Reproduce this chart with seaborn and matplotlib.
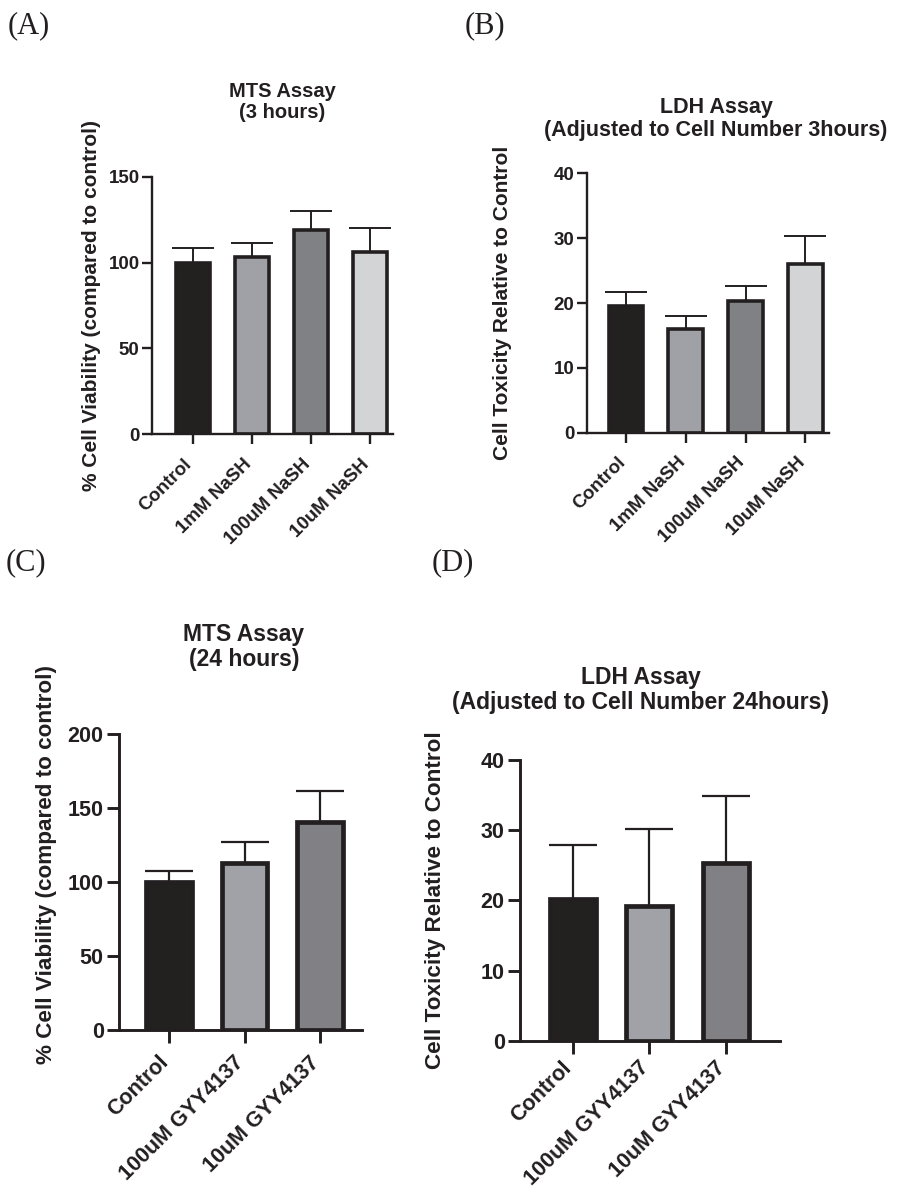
import matplotlib
matplotlib.use("Agg")
import matplotlib.pyplot as plt
import seaborn as sns
import numpy as np
import pandas as pd

# ---------------- data ----------------
cats_a = ["Control", "1mM NaSH", "100uM NaSH", "10uM NaSH"]
mts3_mean = [100.0, 103.1, 119.2, 106.3]
mts3_err = [8.7, 8.5, 10.7, 13.8]

cats_b = ["Control", "1mM NaSH", "100uM NaSH", "10uM NaSH"]
ldh3_mean = [19.5, 16.0, 20.3, 26.0]
ldh3_err = [2.2, 2.0, 2.3, 4.3]

cats_c = ["Control", "100uM GYY4137", "10uM GYY4137"]
mts24_mean = [100.0, 112.7, 140.4]
mts24_err = [7.3, 14.4, 20.7]

cats_d = ["Control", "100uM GYY4137", "10uM GYY4137"]
ldh24_mean = [20.2, 19.2, 25.3]
ldh24_err = [7.7, 10.9, 9.5]

colors4 = ["#231f20", "#9ea0a7", "#7f8085", "#d3d4d6"]
colors3 = ["#231f20", "#9fa1a8", "#808186"]
INK = "#231f20"

sns.set_theme(style="ticks")
plt.rcParams["font.family"] = ["Liberation Sans", "DejaVu Sans"]
plt.rcParams["font.weight"] = "bold"
plt.rcParams["text.color"] = INK
plt.rcParams["axes.labelcolor"] = INK
plt.rcParams["xtick.color"] = INK
plt.rcParams["ytick.color"] = INK

W, H = 906, 1188
fig = plt.figure(figsize=(W / 100, H / 100), dpi=100)


def px_axes(left, bottom, width, height):
    return fig.add_axes([left / W, 1 - bottom / H, width / W, height / H])


def panel(ax, cats, means, errs, colors, ylim, yticks, xlim, ylabel, ylab_xy,
          s):
    df = pd.DataFrame({"group": cats, "value": means})
    sns.barplot(data=df, x="group", y="value", hue="group", palette=colors,
                legend=False, width=s["bw"], edgecolor=INK,
                linewidth=s["edge"], errorbar=None, ax=ax, zorder=2)
    cont = ax.errorbar(np.arange(len(cats)), means,
                       yerr=[np.zeros(len(errs)), errs], fmt="none",
                       ecolor=INK, elinewidth=s["elw"], capsize=s["cap"],
                       capthick=s["elw"], zorder=1)
    # keep only the upper caps (GraphPad-style one-sided error bars)
    for cl in cont[1]:
        yd = np.asarray(cl.get_ydata(), dtype=float)
        if np.allclose(yd, np.asarray(means, dtype=float)):
            cl.set_visible(False)
    ax.set_xlim(*xlim)
    ax.set_ylim(*ylim)
    ax.set_yticks(yticks)
    ax.set_yticklabels([str(t) for t in yticks], fontsize=s["tick"],
                       fontweight="bold")
    ax.set_xticks(range(len(cats)))
    ax.set_xticklabels(cats, rotation=45, ha="right", va="baseline",
                       rotation_mode="anchor", fontsize=s["tick"],
                       fontweight="bold")
    ax.set_xlabel("")
    ax.set_ylabel("")
    for side in ("top", "right"):
        ax.spines[side].set_visible(False)
    for side in ("left", "bottom"):
        ax.spines[side].set_linewidth(s["spine"])
        ax.spines[side].set_color(INK)
    ax.tick_params(axis="both", length=s["tl"], width=s["spine"],
                   color=INK)
    ax.tick_params(axis="x", pad=s["xpad"])
    ax.tick_params(axis="y", pad=2)
    ax.set_facecolor("none")
    ax.text(ylab_xy[0], ylab_xy[1], ylabel, transform=ax.transAxes,
            rotation=90, ha="center", va="center", fontsize=s["lab"],
            fontweight="bold", color=INK)


small = dict(bw=0.58, edge=2.6, elw=1.4, cap=15, tick=13.5, lab=15,
             spine=1.7, tl=7, xpad=15)
large = dict(bw=0.60, edge=3.4, elw=1.6, cap=17, tick=15.5, lab=16.2,
             spine=2.1, tl=9, xpad=15)
large_d = dict(large, xpad=11)

# Panel A
axA = px_axes(152, 434.3, 240.7, 257.6)
panel(axA, cats_a, mts3_mean, mts3_err, colors4, (0, 150), [0, 50, 100, 150],
      (-0.69, 3.39), "% Cell Viability (compared to control)", (-0.25, 0.50),
      small)

# Panel B
axB = px_axes(586.7, 432.7, 242, 259.4)
panel(axB, cats_b, ldh3_mean, ldh3_err, colors4, (0, 40), [0, 10, 20, 30, 40],
      (-0.656, 3.39), "Cell Toxicity Relative to Control", (-0.35, 0.50),
      small)

# Panel C
axC = px_axes(119, 1030, 242.6, 296.4)
panel(axC, cats_c, mts24_mean, mts24_err, colors3, (0, 200),
      [0, 50, 100, 150, 200], (-0.662, 2.55),
      "% Cell Viability (compared to control)", (-0.297, 0.557), large)

# Panel D
axD = px_axes(520, 1040.7, 259.8, 280.7)
panel(axD, cats_d, ldh24_mean, ldh24_err, colors3, (0, 40),
      [0, 10, 20, 30, 40], (-0.687, 2.70),
      "Cell Toxicity Relative to Control", (-0.327, 0.50), large_d)


def ftext(x, y, s, **kw):
    fig.text(x / W, 1 - y / H, s, **kw)


# Titles
ftext(282, 102, "MTS Assay\n(3 hours)", ha="center", va="center",
      multialignment="center", fontsize=14.5, fontweight="bold",
      linespacing=1.15)
ftext(716, 119, "LDH Assay\n(Adjusted to Cell Number 3hours)", ha="center",
      va="center", multialignment="center", fontsize=15.5, fontweight="bold",
      linespacing=1.15)
ftext(244, 647, "MTS Assay\n(24 hours)", ha="center", va="center",
      multialignment="center", fontsize=16.5, fontweight="bold",
      linespacing=1.15)
ftext(641, 690, "LDH Assay\n(Adjusted to Cell Number 24hours)", ha="center",
      va="center", multialignment="center", fontsize=16.5, fontweight="bold",
      linespacing=1.15)

# Panel letters
serif = ["Liberation Serif", "DejaVu Serif"]
for lab, x, y in [("(A)", 8, 26), ("(B)", 465, 26), ("(C)", 6, 563),
                  ("(D)", 432, 563)]:
    ftext(x, y, lab, ha="left", va="center", fontsize=22, family=serif,
          fontweight="normal")

fig.savefig("out.png", dpi=100, facecolor="white")
